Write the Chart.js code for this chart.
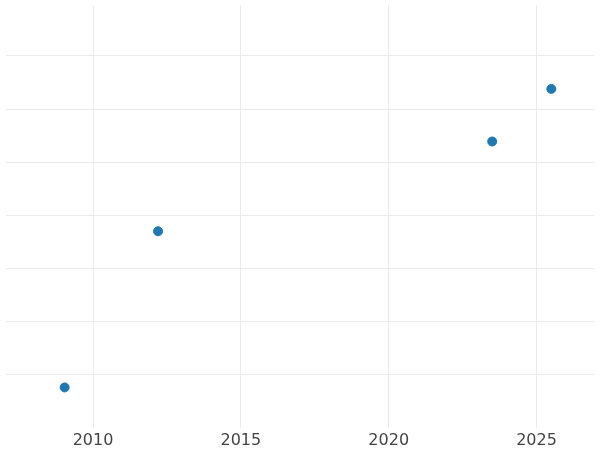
<!DOCTYPE html>
<html><head><script src="https://cdn.jsdelivr.net/npm/chart.js@4"></script>
<style>html,body{margin:0;padding:0;background:#fff}#w{width:600px;height:450px}</style></head>
<body><div id="w"><canvas id="c"></canvas></div>
<script>
const years = [2009.04, 2012.2, 2023.5, 2025.5];
const values = [0.76, 3.70, 5.39, 6.38];
const xTicks = [2010, 2015, 2020, 2025];
new Chart(document.getElementById('c'), {
  type: 'scatter',
  data: { datasets: [{ data: years.map((x, i) => ({ x, y: values[i] })),
    backgroundColor: '#1f77b4', borderColor: '#1f77b4', pointRadius: 4.5, clip: false }] },
  options: {
    responsive: true, maintainAspectRatio: false, animation: false,
    layout: { padding: { left: -6, right: -6, top: -5, bottom: -3 } },
    plugins: { legend: { display: false }, tooltip: { enabled: false } },
    scales: {
      x: { type: 'linear', min: 2007.04, max: 2026.96,
        afterBuildTicks: s => { s.ticks = xTicks.map(v => ({ value: v })); },
        ticks: { font: { family: 'DejaVu Sans', size: 16 }, color: '#444', padding: 3,
          callback: v => String(v) },
        grid: { color: '#ebebeb', drawTicks: false }, border: { display: false } },
      y: { min: 0, max: 7.95,
        afterBuildTicks: s => { s.ticks = [1,2,3,4,5,6,7].map(v => ({ value: v })); },
        ticks: { display: false }, grid: { color: '#ebebeb', drawTicks: false },
        border: { display: false } }
    }
  }
});
</script></body></html>
